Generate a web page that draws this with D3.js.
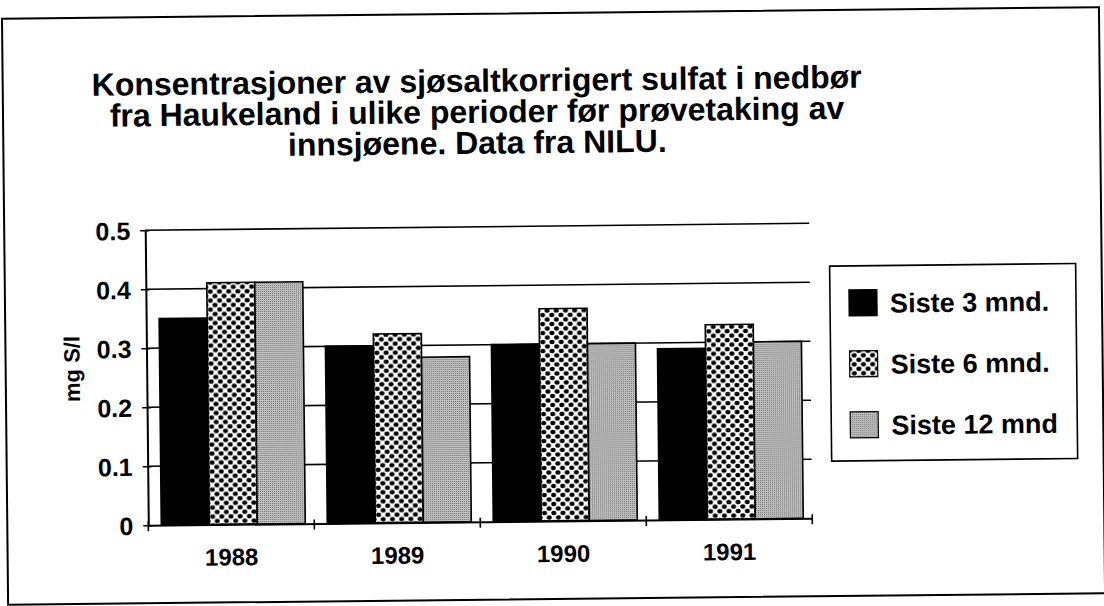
<!DOCTYPE html>
<html>
<head>
<meta charset="utf-8">
<title>Sjøsaltkorrigert sulfat, Haukeland</title>
<script src="https://cdnjs.cloudflare.com/ajax/libs/d3/7.8.5/d3.min.js"></script>
<style>
  body { margin: 0; background: #fff; }
  text { font-family: "Liberation Sans", Arial, sans-serif; font-weight: bold; fill: #000; }
</style>
</head>
<body>
<svg width="1104" height="606"></svg>
<script>
// data
var years = ["1988", "1989", "1990", "1991"];
var series = ["Siste 3 mnd.", "Siste 6 mnd.", "Siste 12 mnd"];
var siste3 = [0.35, 0.30, 0.30, 0.29];
var siste6 = [0.41, 0.32, 0.36, 0.33];
var siste12 = [0.41, 0.28, 0.30, 0.30];
var yTicks = [0, 0.1, 0.2, 0.3, 0.4, 0.5];
var titleLines = [
  "Konsentrasjoner av sjøsaltkorrigert sulfat i nedbør",
  "fra Haukeland i ulike perioder før prøvetaking av",
  "innsjøene. Data fra NILU."
];

var values = [siste3, siste6, siste12];
var rows = years.map(function(yr, i) {
  return { year: yr, vals: series.map(function(s, j) { return { key: s, v: values[j][i] }; }) };
});

var svg = d3.select("svg");

var defs = svg.append("defs");
var dots = defs.append("pattern").attr("id", "dots")
    .attr("patternUnits", "userSpaceOnUse")
    .attr("width", 9.2).attr("height", 9);
dots.append("rect").attr("width", 9.2).attr("height", 9).attr("fill", "#fff");
[[0,0],[9.2,0],[0,9],[9.2,9],[4.6,4.5]].forEach(function(p) {
  dots.append("ellipse").attr("cx", p[0]).attr("cy", p[1]).attr("rx", 2.5).attr("ry", 2.2).attr("fill", "#000");
});
var grain = defs.append("pattern").attr("id", "grain")
    .attr("patternUnits", "userSpaceOnUse")
    .attr("width", 2).attr("height", 2);
grain.append("rect").attr("width", 2).attr("height", 2).attr("fill", "#c4c4c4");
grain.append("rect").attr("width", 1).attr("height", 1).attr("fill", "#6a6a6a");

var fills = d3.scaleOrdinal().domain(series).range(["#000", "url(#dots)", "url(#grain)"]);

// whole page sits slightly tilted, like the scan
var g = svg.append("g").attr("transform", "rotate(-0.6,552,303)");

g.append("rect")
    .attr("x", 5).attr("y", 13).attr("width", 1097).attr("height", 586)
    .attr("fill", "none").attr("stroke", "#000").attr("stroke-width", 2);

function label(parent, x, y, str, size, anchor, rot) {
  return parent.append("text")
      .attr("transform", "translate(" + x + "," + y + ")" + (rot ? " rotate(" + rot + ")" : ""))
      .attr("text-anchor", anchor)
      .style("font-size", size + "px")
      .text(str);
}

titleLines.forEach(function(l, i) {
  label(g, 479, 91 + i * 31, l, 32, "middle");
});

var x0 = d3.scaleBand().domain(years).range([146, 810]);
var x1 = d3.scaleBand().domain(series).range([13, 157]);
var y = d3.scaleLinear().domain([0, 0.5]).range([521, 226]);

// gridlines
g.append("g").selectAll("line")
  .data(yTicks.filter(function(d) { return d > 0; }))
  .enter().append("line")
    .attr("x1", 146).attr("x2", 810)
    .attr("y1", function(d) { return y(d); }).attr("y2", function(d) { return y(d); })
    .attr("stroke", "#000").attr("stroke-width", 1.6);

// bars
var grp = g.append("g").selectAll("g")
  .data(rows)
  .enter().append("g")
    .attr("transform", function(d) { return "translate(" + x0(d.year) + ",0)"; });
grp.selectAll("rect")
  .data(function(d) { return d.vals; })
  .enter().append("rect")
    .attr("x", function(d) { return x1(d.key); })
    .attr("width", x1.bandwidth())
    .attr("y", function(d) { return y(d.v); })
    .attr("height", function(d) { return y(0) - y(d.v); })
    .attr("fill", function(d) { return fills(d.key); })
    .attr("stroke", "#000").attr("stroke-width", 1.6);

// y axis
var yAxis = g.append("g")
    .attr("transform", "translate(146,0)")
    .call(d3.axisLeft(y).tickValues(yTicks).tickSizeOuter(0)
      .tickFormat(function(d) { return d === 0 ? "0" : d3.format(".1f")(d); }));
yAxis.select(".domain").attr("stroke-width", 2);
yAxis.selectAll(".tick line").attr("x1", 4).attr("x2", -5).attr("stroke-width", 1.6);
yAxis.selectAll(".tick text")
    .attr("x", -15).attr("dy", "0.36em")
    .style("font-size", "25px").style("font-family", null);

// x axis: labels at band centres, ticks at band edges
var xAxis = g.append("g")
    .attr("transform", "translate(0,521)")
    .call(d3.axisBottom(x0).tickSize(0).tickSizeOuter(0));
xAxis.select(".domain").attr("stroke-width", 2);
xAxis.selectAll(".tick text")
    .attr("y", 41).attr("dy", 0)
    .style("font-size", "24px").style("font-family", null);
xAxis.selectAll(".edge")
  .data(years.map(function(d) { return x0(d); }).concat([x0.range()[1]]))
  .enter().append("line")
    .attr("class", "edge")
    .attr("x1", function(d) { return d; }).attr("x2", function(d) { return d; })
    .attr("y1", -4).attr("y2", 6)
    .attr("stroke", "#000").attr("stroke-width", 1.6);

label(g, 79, 364, "mg S/l", 22, "middle", -90);

// legend
var leg = g.append("g");
leg.append("rect")
    .attr("x", 830).attr("y", 269).attr("width", 246).attr("height", 195)
    .attr("fill", "#fff").attr("stroke", "#000").attr("stroke-width", 1.6);
var item = leg.selectAll(".item")
  .data(series)
  .enter().append("g")
    .attr("class", "item")
    .attr("transform", function(d, i) { return "translate(849," + (293 + i * 61) + ")"; });
item.append("rect")
    .attr("width", 28).attr("height", 26)
    .attr("fill", function(d) { return fills(d); })
    .attr("stroke", "#000").attr("stroke-width", 1.2);
item.each(function(d) {
  label(d3.select(this), 41, 23, d, 27, "start");
});
</script>
</body>
</html>
